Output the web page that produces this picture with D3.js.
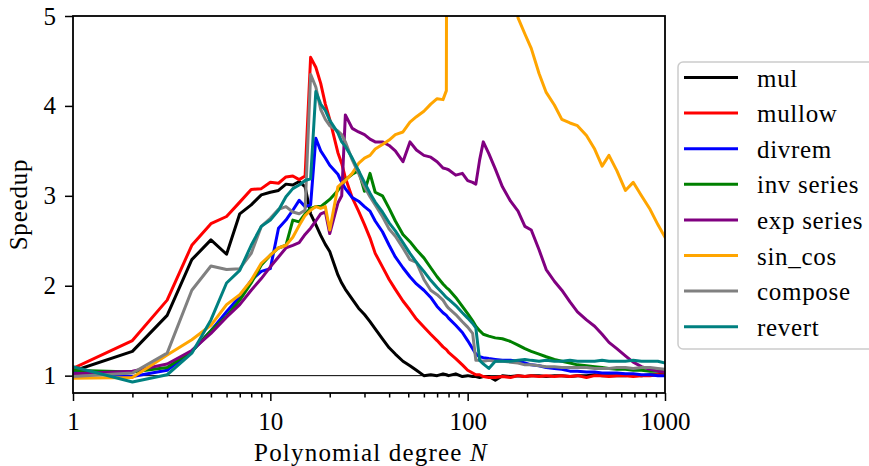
<!DOCTYPE html>
<html>
<head>
<meta charset="utf-8">
<script src="https://cdn.jsdelivr.net/npm/d3@7"></script>
<style>
  html, body { margin: 0; padding: 0; background: #fff; }
  svg { display: block; }
  svg text { font-family: "Liberation Serif", "Tinos", "Times New Roman", "DejaVu Serif", serif !important; }
</style>
</head>
<body>
<svg id="chart" width="869" height="466"></svg>
<script>
// Polynomial degrees at which each routine was timed
const degrees = [1,2,3,4,5,6,7,8,9,10,
  11,12,13,14,15,16,17,18,19,20,
  22,23,24,26,28,30,32,34,37,40,
  43,47,51,55,60,65,70,75,78,80,
  87,94,100,106,110,115,120,128,138,150,
  165,180,195,210,230,250,275,300,330,360,
  400,440,480,520,570,630,690,760,840,920,
  1000];

// Speedup per routine, one value per degree
const mul = [1.05,1.27,1.67,2.29,2.51,2.35,2.80,2.90,3.01,3.04,
  3.06,3.13,3.12,3.16,3.10,2.80,2.68,2.56,2.46,2.38,
  2.12,2.03,1.96,1.85,1.75,1.68,1.60,1.52,1.41,1.31,
  1.24,1.16,1.11,1.06,1.00,1.01,1.00,1.02,1.01,1.00,
  1.02,0.99,1.00,0.99,0.99,0.98,0.99,0.99,0.95,1.00,
  0.99,1.00,0.99,1.00,1.00,0.99,1.00,1.00,0.99,1.00,
  1.00,1.01,1.00,1.00,1.00,1.00,1.01,1.00,1.01,1.01,
  1.02];
const mullow = [1.08,1.39,1.84,2.45,2.69,2.77,2.93,3.07,3.08,3.15,
  3.14,3.21,3.22,3.18,3.22,4.54,4.43,4.25,4.02,3.85,
  3.48,3.36,3.20,2.98,2.83,2.68,2.53,2.36,2.21,2.07,
  1.96,1.83,1.73,1.63,1.54,1.46,1.39,1.32,1.29,1.26,
  1.19,1.12,1.06,1.03,1.01,1.01,0.99,0.98,0.98,0.99,
  0.98,1.00,0.99,1.00,0.99,1.00,0.99,1.00,0.99,1.00,
  0.98,1.00,1.00,0.99,1.00,1.00,0.99,1.00,1.00,1.01,
  1.01];
const divrem = [1.04,0.99,1.06,1.27,1.50,1.71,1.88,2.06,2.16,2.19,
  2.64,2.73,2.84,2.95,2.88,2.90,3.64,3.50,3.42,3.34,
  3.24,3.15,3.08,2.98,2.94,2.88,2.83,2.72,2.60,2.45,
  2.32,2.20,2.10,2.02,1.95,1.87,1.77,1.70,1.67,1.64,
  1.56,1.48,1.39,1.30,1.24,1.21,1.20,1.19,1.18,1.17,
  1.17,1.16,1.14,1.12,1.11,1.09,1.08,1.07,1.05,1.05,
  1.04,1.04,1.03,1.03,1.03,1.02,1.02,1.01,1.01,1.00,
  1.00];
const invSeries = [1.06,1.04,1.09,1.27,1.50,1.66,1.84,2.03,2.23,2.34,
  2.42,2.45,2.73,2.71,2.80,2.86,2.88,2.88,2.92,2.96,
  3.06,3.12,3.18,3.24,3.28,3.05,3.25,3.04,3.00,2.86,
  2.72,2.57,2.49,2.40,2.31,2.20,2.10,2.02,1.98,1.96,
  1.87,1.77,1.69,1.61,1.55,1.50,1.46,1.44,1.42,1.41,
  1.38,1.34,1.30,1.27,1.24,1.21,1.18,1.16,1.14,1.12,
  1.11,1.10,1.09,1.08,1.07,1.07,1.06,1.06,1.05,1.05,
  1.04];
const expSeries = [1.02,1.05,1.13,1.28,1.47,1.65,1.79,1.95,2.08,2.21,
  2.32,2.42,2.45,2.48,2.57,2.64,2.72,2.80,2.82,2.58,
  2.92,3.00,3.90,3.75,3.71,3.68,3.63,3.60,3.60,3.56,
  3.50,3.38,3.60,3.51,3.45,3.43,3.38,3.31,3.30,3.29,
  3.23,3.25,3.17,3.15,3.13,3.40,3.60,3.47,3.30,3.10,
  2.94,2.83,2.66,2.62,2.40,2.18,2.05,1.95,1.82,1.71,
  1.62,1.55,1.46,1.37,1.30,1.22,1.15,1.10,1.07,1.05,
  1.04];
const sinCos = [0.97,0.98,1.23,1.40,1.56,1.79,1.90,2.06,2.25,2.34,
  2.42,2.45,2.54,2.67,2.78,2.84,2.88,2.86,2.88,2.62,
  3.10,3.14,3.17,3.25,3.36,3.42,3.45,3.52,3.57,3.62,
  3.68,3.71,3.82,3.88,3.94,4.02,4.08,4.07,4.17,20.0,
  21.0,20.0,19.0,17.0,16.0,15.0,14.0,12.0,10.0,8.0,
  6.2,4.98,4.80,4.64,4.36,4.15,4.01,3.85,3.81,3.78,
  3.67,3.52,3.33,3.45,3.28,3.06,3.15,3.00,2.85,2.68,
  2.54];
const compose = [0.99,1.03,1.25,1.95,2.22,2.18,2.19,2.36,2.66,2.75,
  2.85,2.88,2.82,2.80,2.84,4.35,4.21,3.96,3.85,3.78,
  3.72,3.68,3.60,3.40,3.25,3.10,2.99,2.90,2.77,2.63,
  2.55,2.42,2.29,2.26,2.07,1.95,1.90,1.84,1.78,1.75,
  1.68,1.60,1.54,1.47,1.17,1.17,1.16,1.17,1.16,1.16,
  1.15,1.14,1.12,1.12,1.11,1.10,1.10,1.09,1.09,1.09,
  1.09,1.08,1.08,1.08,1.09,1.09,1.08,1.09,1.09,1.08,
  1.07];
const revert = [1.10,0.93,1.01,1.25,1.62,2.03,2.17,2.45,2.66,2.73,
  2.84,2.99,3.08,3.12,3.17,3.19,4.16,4.02,3.95,3.84,
  3.70,3.60,3.55,3.42,3.28,3.15,3.03,2.93,2.82,2.70,
  2.61,2.48,2.36,2.26,2.16,2.06,1.98,1.91,1.87,1.85,
  1.78,1.70,1.64,1.58,1.53,1.17,1.13,1.08,1.16,1.16,
  1.16,1.17,1.18,1.17,1.16,1.17,1.16,1.16,1.17,1.16,
  1.16,1.16,1.17,1.16,1.16,1.16,1.17,1.16,1.16,1.16,
  1.14];

const seriesNames = ["mul", "mullow", "divrem", "inv series", "exp series", "sin_cos", "compose", "revert"];
const seriesColors = ["#000000", "#ff0000", "#0000ff", "#008000", "#800080", "#ffa500", "#808080", "#008080"];
const seriesValues = [mul, mullow, divrem, invSeries, expSeries, sinCos, compose, revert];

const xMajorTicks = [1, 10, 100, 1000];
const xMinorTicks = [2,3,4,5,6,7,8,9,20,30,40,50,60,70,80,90,200,300,400,500,600,700,800,900];
const yTicks = [1, 2, 3, 4, 5];

const svg = d3.select("#chart");
const margin = { top: 16, right: 204, bottom: 73, left: 73 };
const width = 869, height = 466;
const plotW = width - margin.left - margin.right;
const plotH = height - margin.top - margin.bottom;

const x = d3.scaleLog().domain([1, 1000]).range([margin.left, margin.left + plotW]);
const y = d3.scaleLinear().domain([0.807, 5]).range([margin.top + plotH, margin.top]);

const fontSize = 25;
const serif = '"Liberation Serif", "Tinos", "Times New Roman", "DejaVu Serif", serif';

svg.append("defs").append("clipPath").attr("id", "plot-clip")
  .append("rect")
  .attr("x", margin.left).attr("y", margin.top)
  .attr("width", plotW).attr("height", plotH);

// reference line at speedup 1
svg.append("line")
  .attr("x1", margin.left).attr("x2", margin.left + plotW)
  .attr("y1", y(1)).attr("y2", y(1))
  .attr("stroke", "#000").attr("stroke-width", 1);

// series lines
const line = d3.line().x(d => x(d[0])).y(d => y(d[1]));
const lineGroup = svg.append("g").attr("clip-path", "url(#plot-clip)");
seriesValues.forEach((vals, i) => {
  lineGroup.append("path")
    .datum(degrees.map((n, j) => [n, vals[j]]))
    .attr("d", line)
    .attr("fill", "none")
    .attr("stroke", seriesColors[i])
    .attr("stroke-width", 3)
    .attr("stroke-linejoin", "round")
    .attr("stroke-linecap", "square");
});

// axes
const xAxis = svg.append("g")
  .attr("transform", `translate(0,${margin.top + plotH})`)
  .call(d3.axisBottom(x).tickValues(xMajorTicks).tickFormat(d3.format("d"))
    .tickSize(8).tickPadding(11).tickSizeOuter(0));
const xMinor = svg.append("g")
  .attr("transform", `translate(0,${margin.top + plotH})`)
  .call(d3.axisBottom(x).tickValues(xMinorTicks).tickFormat("").tickSize(4.5).tickSizeOuter(0));
const yAxis = svg.append("g")
  .attr("transform", `translate(${margin.left},0)`)
  .call(d3.axisLeft(y).tickValues(yTicks).tickFormat(d3.format("d"))
    .tickSize(8).tickPadding(9).tickSizeOuter(0));

[xAxis, xMinor, yAxis].forEach(g => {
  g.attr("font-family", serif).attr("font-size", fontSize);
  g.select(".domain").remove();
  g.selectAll(".tick line").attr("stroke", "#000").attr("stroke-width", 1.5);
  g.selectAll(".tick text").attr("fill", "#000");
});

// axes frame
svg.append("rect")
  .attr("x", margin.left).attr("y", margin.top)
  .attr("width", plotW).attr("height", plotH)
  .attr("fill", "none").attr("stroke", "#000").attr("stroke-width", 1.8);

// axis titles
const xTitle = svg.append("text")
  .attr("x", margin.left + plotW / 2 + 2).attr("y", 461)
  .attr("text-anchor", "middle")
  .attr("font-family", serif).attr("font-size", fontSize)
  .attr("letter-spacing", 1.2);
xTitle.append("tspan").text("Polynomial degree ");
xTitle.append("tspan").attr("font-style", "italic").text("N");

svg.append("text")
  .attr("transform", `translate(27,${margin.top + plotH / 2}) rotate(-90)`)
  .attr("text-anchor", "middle")
  .attr("font-family", serif).attr("font-size", fontSize)
  .attr("letter-spacing", 0.8)
  .text("Speedup");

// legend
const legend = svg.append("g").attr("font-family", serif).attr("font-size", fontSize);
legend.append("rect")
  .attr("x", 678).attr("y", 62)
  .attr("width", 220).attr("height", 287)
  .attr("rx", 5).attr("ry", 5)
  .attr("fill", "#fff").attr("fill-opacity", 0.8)
  .attr("stroke", "#cccccc").attr("stroke-width", 1.5);

seriesNames.forEach((name, i) => {
  const cy = 77.5 + i * 35.6;
  legend.append("line")
    .attr("x1", 684).attr("x2", 738)
    .attr("y1", cy).attr("y2", cy)
    .attr("stroke", seriesColors[i]).attr("stroke-width", 3);
  legend.append("text")
    .attr("x", 757).attr("y", cy + 9)
    .attr("letter-spacing", 0.7)
    .text(name);
});
</script>
</body>
</html>
